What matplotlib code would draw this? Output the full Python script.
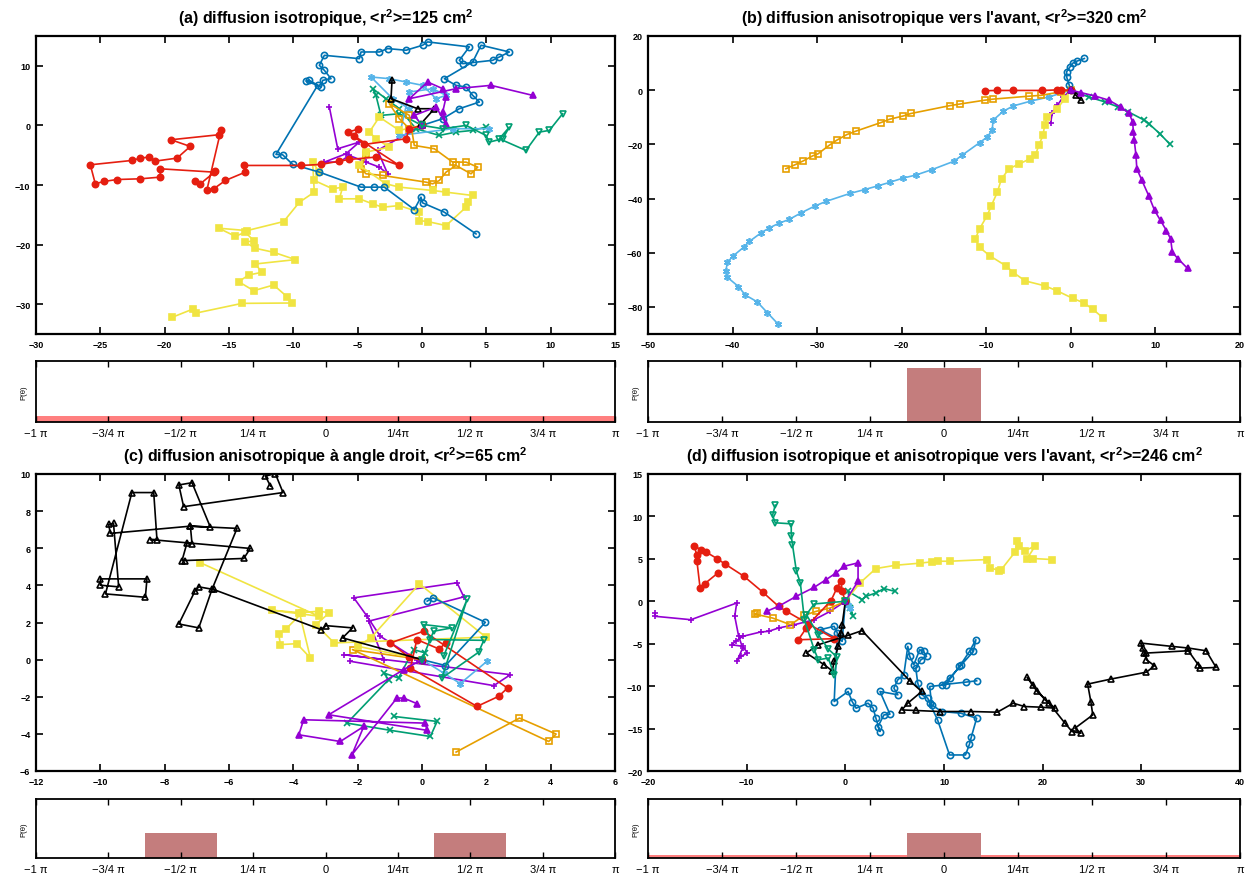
import numpy as np
import matplotlib.pyplot as plt
from matplotlib import font_manager

# ---- trajectories: (x, y) in cm, all start at the origin ----
# panel (a): isotropic
a_purple = [(0, 0), (-0.98, -1.12), (-3.45, -4.20), (-2.67, -8.12), (-3.32, -7.00), (-4.35, -6.16),
            (-5.65, -5.04), (-6.42, -6.16), (-7.59, -6.16), (-5.91, -4.76), (-4.87, -2.80),
            (-6.55, -3.92), (-7.20, 3.08)]
a_green = [(0, 0), (-1.76, 1.96), (-3.19, 1.68), (-3.58, 5.04), (-3.83, 6.16), (-2.80, 4.48),
           (-1.76, 2.80), (-0.47, -0.56), (1.35, -1.68), (2.64, -1.12), (3.94, -0.84), (4.97, -0.28)]
a_lblue = [(0, 0), (-0.98, 2.80), (-2.28, 4.48), (-3.96, 8.12), (-2.54, 7.84), (-1.24, 7.28),
           (0.05, 6.72), (1.09, 4.48), (1.87, 5.04), (0.83, 6.16), (-0.98, 5.60), (-1.76, -1.68),
           (2.38, -0.56), (5.23, -0.56)]
a_orange = [(0, 0), (-0.98, -0.56), (-1.76, 1.12), (-2.54, 3.64), (-0.98, 1.68), (-0.60, -3.36),
            (0.96, -3.92), (2.38, -6.16), (3.42, -6.16), (4.33, -7.00), (3.81, -8.12), (2.64, -6.72),
            (1.87, -7.84), (1.35, -9.24), (0.83, -9.80), (0.31, -9.52), (-3.06, -8.40), (-4.35, -8.12),
            (-4.74, -7.28), (-4.35, -4.76)]
a_yellow = [(0, 0), (-1.76, -0.84), (-3.32, 1.40), (-4.09, -1.12), (-3.58, -2.24), (-2.54, -3.64),
            (-4.35, -4.48), (-4.87, -6.72), (-2.80, -9.80), (-1.76, -10.36), (0.83, -10.92),
            (1.87, -11.20), (3.94, -11.76), (3.55, -12.89), (3.42, -13.73), (1.87, -16.81),
            (0.44, -16.13), (-0.21, -15.97), (-0.21, -14.57), (-1.76, -13.45), (-3.06, -13.73),
            (-3.83, -13.17), (-4.87, -12.32), (-6.42, -12.32), (-6.17, -10.36), (-6.94, -10.64),
            (-8.37, -9.24), (-7.98, -7.84), (-8.50, -6.16), (-8.37, -11.20), (-9.53, -12.89),
            (-10.75, -16.13), (-13.60, -17.65), (-15.80, -17.25), (-14.51, -18.60), (-13.73, -17.93),
            (-13.08, -19.33), (-13.73, -19.61), (-12.95, -20.62), (-11.53, -21.29), (-9.84, -22.52),
            (-12.95, -23.25), (-12.44, -24.65), (-13.47, -25.10), (-14.25, -26.22), (-13.08, -27.73),
            (-11.53, -26.78), (-10.49, -28.74), (-10.10, -29.80), (-13.99, -29.86), (-17.54, -31.48),
            (-17.80, -30.81), (-19.43, -32.21)]
a_blue = [(0, 0), (1.61, 1.12), (2.90, 2.80), (4.46, 3.92), (3.94, 5.04), (3.42, 6.44), (2.64, 6.72),
          (1.74, 7.84), (3.94, 10.64), (4.59, 13.45), (6.79, 12.32), (6.01, 11.48), (5.49, 10.92),
          (3.16, 10.36), (2.90, 10.92), (3.68, 13.17), (0.44, 14.01), (0.05, 13.45), (-1.24, 12.61),
          (-2.67, 12.89), (-3.32, 12.32), (-4.74, 12.32), (-4.87, 11.20), (-7.59, 11.76),
          (-7.98, 10.08), (-7.59, 9.24), (-7.07, 7.84), (-7.72, 7.56), (-7.85, 6.44), (-8.76, 7.56),
          (-9.02, 7.45), (-8.11, 6.72), (-11.35, -4.87), (-10.83, -4.93), (-10.05, -6.55),
          (-7.98, -7.84), (-4.74, -10.36), (-3.70, -10.36), (-2.93, -10.36), (-0.60, -14.12),
          (-0.08, -12.04), (0.05, -13.00), (1.74, -14.57), (4.20, -18.21)]
a_red = [(0, 0), (-0.98, -0.56), (-1.24, -2.24), (-4.48, -3.19), (-5.78, -1.12), (-5.00, -0.67),
         (-5.26, -1.79), (-1.76, -6.72), (-3.58, -5.32), (-5.65, -5.71), (-6.42, -5.99), (-7.85, -6.55),
         (-9.40, -6.72), (-13.86, -6.72), (-13.73, -7.84), (-15.28, -9.24), (-16.19, -10.64),
         (-16.71, -10.76), (-15.62, -0.73), (-15.80, -1.57), (-19.51, -2.41), (-18.01, -3.53),
         (-19.04, -5.49), (-20.73, -5.99), (-21.24, -5.32), (-21.89, -5.49), (-22.54, -5.88),
         (-25.78, -6.61), (-25.39, -9.80), (-24.74, -9.41), (-23.70, -9.08), (-21.89, -8.96),
         (-20.34, -8.68), (-20.34, -7.28), (-16.19, -7.84), (-16.06, -7.73), (-17.23, -9.80),
         (-17.67, -9.41)]
a_black = [(0, 0), (-0.08, 0.28), (0.96, 2.80), (-0.34, 2.80), (-2.41, 4.48), (-2.33, 7.56)]
a_ptri = [(0, 0), (-0.60, 1.68), (1.09, 3.08), (1.87, 0.28), (1.61, 2.24), (1.87, 4.76), (1.61, 6.16),
          (0.44, 7.28), (-0.98, 4.48), (2.64, 6.16), (5.36, 6.72), (8.60, 5.04)]
a_ginv = [(0, 0), (1.61, -0.56), (3.42, 0), (4.97, -1.68), (5.23, -2.80), (6.27, -2.24), (6.79, -0.28),
          (6.01, -2.24), (8.08, -4.20), (9.12, -1.12), (9.90, -0.84), (10.93, 1.96)]

# panel (b): forward anisotropic
b_purple = [(0, 0), (-0.9, -2.5), (-1.6, -5.6), (-2.2, -8.6), (-2.4, -12.0)]
b_green = [(0, 0), (2.1, -2.5), (4.0, -4.3), (5.6, -6.2), (6.8, -8.0), (8.7, -11.1), (9.2, -12.3),
           (10.5, -16.0), (11.7, -19.9)]
b_lblue = [(0, 0), (-2.6, -2.5), (-4.7, -4.0), (-6.8, -5.8), (-8.0, -7.8), (-9.2, -11.1), (-9.3, -14.8),
           (-9.9, -17.3), (-10.8, -19.4), (-12.9, -24.1), (-13.8, -26.2), (-16.4, -29.3), (-18.3, -31.3),
           (-19.9, -32.5), (-21.4, -34.0), (-22.8, -35.3), (-24.4, -36.7), (-26.1, -38.1), (-28.9, -41.0),
           (-30.3, -42.8), (-31.9, -45.3), (-33.3, -47.7), (-34.5, -49.1), (-35.7, -50.9), (-36.6, -52.6),
           (-38.0, -55.8), (-38.7, -58.0), (-39.9, -61.1), (-40.6, -63.5), (-40.8, -66.7), (-40.6, -69.1),
           (-39.3, -72.5), (-38.5, -75.6), (-37.1, -78.1), (-35.9, -82.1), (-34.6, -86.4)]
b_orange = [(0, 0), (-1.2, -0.6), (-3.5, -1.9), (-4.9, -2.2), (-9.2, -3.3), (-10.2, -3.7), (-13.1, -5.1),
            (-14.3, -5.7), (-18.9, -8.6), (-19.8, -9.5), (-21.4, -10.7), (-22.5, -12.0), (-25.4, -15.1),
            (-26.5, -16.4), (-27.7, -18.5), (-28.6, -20.4), (-29.9, -23.5), (-30.5, -24.2),
            (-31.7, -26.2), (-32.6, -27.5), (-33.7, -29.0)]
b_yellow = [(0, 0), (-0.7, -3.1), (-1.6, -6.8), (-2.8, -9.9), (-3.1, -13.0), (-3.3, -16.7), (-3.8, -20.4),
            (-4.2, -24.1), (-4.8, -25.3), (-6.1, -27.2), (-7.3, -29.0), (-8.2, -32.7), (-8.7, -37.7),
            (-9.4, -42.6), (-9.9, -46.3), (-10.8, -51.2), (-11.3, -54.9), (-10.8, -58.0), (-9.6, -61.1),
            (-7.7, -64.8), (-6.8, -67.3), (-5.4, -70.4), (-3.1, -72.2), (-1.6, -74.1), (0.2, -76.8),
            (1.6, -78.6), (2.6, -80.9), (3.8, -84.0)]
b_blue = [(0, 0), (-0.2, 1.9), (-0.5, 4.9), (-0.5, 6.8), (-0.1, 8.6), (0.2, 9.9), (0.7, 10.7), (1.6, 11.7)]
b_red = [(0, 0), (-1.2, 0.1), (-1.6, 0.1), (-3.4, -0.1), (-6.8, -0.1), (-8.7, -0.1), (-10.2, -0.2)]
b_black = [(0, 0), (0.6, -1.9), (1.2, -3.7)]
b_ptri = [(0, 0), (1.2, -0.9), (2.8, -2.1), (4.5, -3.7), (5.9, -6.2), (6.9, -8.6), (7.3, -11.7), (7.4, -15.4),
          (7.5, -18.5), (7.7, -24.1), (7.8, -29.0), (8.4, -33.3), (9.2, -38.9), (9.9, -44.4), (10.6, -48.1),
          (11.3, -51.8), (11.8, -54.9), (12.0, -59.9), (12.7, -62.3), (13.8, -65.8)]
b_ginv = []

# panel (c): right-angle anisotropic
c_purple = [(0, 0), (-0.16, 0), (-1.30, 1.26), (-1.71, 2.34), (-2.12, 3.33), (1.09, 4.14), (1.30, 3.38),
            (-1.66, 2.07), (-1.19, 0), (-2.44, 0.27), (2.75, -0.81), (2.23, -1.40), (-2.23, -0.09)]
c_green = [(0, 0), (0.10, 0.36), (-0.26, 0.54), (-0.73, -0.99), (-1.19, -0.72), (-1.04, -1.08),
           (-2.33, -3.42), (-0.98, -3.81), (0.26, -4.14), (0.47, -3.33), (-0.88, -3.06)]
c_lblue = [(0, 0), (0.67, -0.72), (1.19, -1.29), (2.02, -0.09)]
c_orange = [(0, 0), (-2.16, 0.54), (3.94, -4.41), (4.17, -4.01), (3.03, -3.15), (1.06, -4.98)]
c_yellow = [(0, 0), (-2.00, 0.72), (-1.59, 1.17), (-0.08, 4.08), (1.99, 1.21), (-2.73, 0.90), (-3.30, 1.89),
            (-2.88, 2.52), (-3.19, 2.61), (-3.81, 2.52), (-3.47, 0.09), (-3.89, 0.86), (-4.40, 0.81),
            (-4.46, 1.40), (-4.22, 1.67), (-3.73, 2.52), (-4.66, 2.66), (-3.21, 2.34), (-6.89, 5.22)]
c_blue = [(0, 0), (0.73, -0.32), (1.97, 2.01), (0.34, 3.33), (0.16, 3.15)]
c_red = [(0, 0), (-0.41, 0.14), (-0.98, 0.90), (0.05, 1.53), (2.66, -1.53), (2.38, -1.98), (1.71, -2.52),
         (-0.36, -0.45), (-0.16, 1.08), (0.52, 0.58), (0.76, 0.90)]
c_black = [(0, 0), (-2.47, 1.17), (-2.16, 1.71), (-2.98, 1.83), (-3.14, 1.62), (-6.48, 3.78), (-6.94, 3.92),
           (-7.05, 3.72), (-7.56, 1.92), (-6.94, 1.71), (-6.53, 3.78), (-5.75, 7.07), (-7.20, 7.19),
           (-9.69, 6.80), (-9.74, 7.28), (-9.59, 7.34), (-9.43, 3.92), (-10.0, 4.01), (-10.0, 4.35),
           (-8.55, 4.35), (-8.60, 3.36), (-9.84, 3.54), (-9.02, 9.00), (-8.34, 9.00), (-8.24, 6.47),
           (-8.45, 6.47), (-5.34, 5.99), (-5.54, 5.45), (-7.36, 5.34), (-7.46, 5.34), (-7.31, 6.26),
           (-7.15, 6.24), (-7.20, 7.19), (-6.58, 7.14), (-7.15, 9.53), (-7.56, 9.41), (-7.41, 8.24),
           (-4.32, 9.00), (-4.56, 10.02), (-4.87, 9.89), (-4.71, 9.35)]
c_ptri = [(0, 0), (-0.57, -0.54), (-2.90, -2.97), (0.16, -3.81), (0.10, -3.42), (-3.68, -3.24),
          (-3.83, -4.05), (-2.54, -4.41), (-1.81, -3.60), (-2.18, -5.13), (-0.78, -2.07), (-0.57, -2.07),
          (-0.16, -2.37)]
c_ginv = [(0, 0), (0.36, 1.53), (0.93, 1.71), (0.05, 1.89), (0.26, 1.08), (1.92, 1.04), (1.76, 0.40),
          (0.62, -0.99), (1.40, 3.24), (0.67, 0.18)]

# panel (d): isotropic + forward
d_purple = [(0, 0), (-1.53, -1.18), (-3.15, -2.17), (-5.16, -2.76), (-6.77, -3.15), (-7.78, -3.54),
            (-8.59, -3.62), (-10.40, -4.13), (-11.13, -4.72), (-11.53, -5.12), (-10.40, -5.31),
            (-9.92, -6.10), (-10.60, -6.50), (-11.01, -7.09), (-10.40, -5.51), (-10.81, -4.13),
            (-11.21, -1.77), (-11.01, -0.20), (-15.65, -2.17), (-19.27, -1.77), (-19.27, -1.38)]
d_green = [(0, 0), (0.81, -1.77), (0.48, -0.79), (0.28, 1.18), (1.69, 0.20), (2.10, 0.59), (3.10, 0.98),
           (3.91, 1.50), (5.00, 1.18)]
d_lblue = [(0, 0), (0.28, -0.39), (0.48, -0.79)]
d_orange = [(0, 0), (-1.53, -0.79), (-2.94, -1.18), (-4.15, -1.65), (-5.56, -2.76), (-7.38, -1.97),
            (-9.19, -1.50), (-8.99, -1.38)]
d_yellow = [(0, 0), (1.49, 2.17), (3.10, 3.86), (5.12, 4.25), (7.54, 4.49), (8.75, 4.65), (9.35, 4.72),
            (10.56, 4.72), (14.40, 4.92), (14.68, 3.94), (15.60, 3.62), (15.81, 3.74), (17.22, 5.83),
            (17.42, 7.09), (17.62, 6.50), (18.23, 5.98), (19.23, 6.50), (18.43, 5.04), (19.03, 5.04),
            (20.97, 4.92)]
d_blue = [(0, 0), (-0.32, -4.72), (-2.54, -3.35), (-1.13, -2.95), (-0.81, -3.74), (-1.13, -11.81),
          (0.28, -10.63), (0.69, -11.81), (1.09, -12.60), (2.30, -12.01), (2.82, -12.60), (3.10, -13.78),
          (3.51, -15.35), (3.31, -14.76), (3.91, -13.39), (4.52, -13.31), (3.51, -10.63), (5.32, -11.02),
          (4.92, -10.24), (5.32, -9.25), (5.93, -8.66), (6.33, -5.31), (6.53, -6.50), (6.94, -7.48),
          (7.54, -5.71), (7.94, -5.91), (8.23, -6.50), (7.66, -6.89), (7.14, -7.87), (7.34, -9.65),
          (7.74, -11.02), (8.35, -11.42), (8.55, -12.01), (9.35, -13.98), (10.56, -18.11),
          (12.18, -18.11), (12.58, -16.85), (12.78, -15.94), (13.31, -13.78), (11.69, -13.19),
          (9.76, -12.99), (8.75, -12.20), (8.55, -10.04), (10.16, -9.84), (11.57, -7.68), (12.58, -5.91),
          (13.23, -4.53), (12.98, -5.91), (11.77, -7.48), (10.56, -9.06), (9.76, -9.84), (12.18, -9.53),
          (13.31, -9.37)]
d_red = [(0, 0), (-0.32, 1.18), (-0.44, 2.44), (-0.85, 1.57), (-1.45, 0.08), (-3.75, -2.76), (-3.95, -3.15),
         (-4.76, -4.53), (-1.13, -4.41), (-5.97, -1.18), (-6.77, -0.59), (-8.39, 1.10), (-10.28, 2.95),
         (-12.22, 4.41), (-13.02, 5.04), (-14.15, 5.83), (-14.64, 6.10), (-15.32, 6.50), (-15.04, 5.43),
         (-15.04, 4.72), (-14.72, 1.57), (-14.23, 2.09), (-12.90, 3.35)]
d_black = [(0, 0), (-0.32, -2.76), (-0.44, -3.74), (-0.73, -5.31), (-1.13, -7.09), (-1.33, -8.19),
           (-2.14, -7.48), (-3.95, -6.10), (-2.74, -5.12), (0.28, -4.02), (1.69, -3.46), (6.53, -9.37),
           (7.74, -10.63), (6.33, -12.01), (5.73, -12.80), (7.14, -12.87), (9.56, -12.99), (12.78, -12.99),
           (15.40, -13.07), (17.02, -12.01), (18.15, -12.40), (19.84, -12.48), (21.25, -12.60),
           (20.24, -11.61), (19.03, -9.84), (18.43, -8.98), (19.44, -10.63), (20.65, -12.01),
           (22.26, -14.37), (22.98, -15.35), (23.87, -15.55), (23.27, -14.96), (25.08, -13.39),
           (24.88, -11.81), (24.56, -9.76), (26.90, -9.17), (30.52, -8.35), (31.33, -7.60), (30.52, -6.89),
           (30.32, -6.10), (30.12, -5.51), (29.92, -4.92), (33.06, -5.31), (34.76, -5.51), (36.57, -5.83),
           (37.58, -7.80), (35.97, -7.87), (35.77, -7.48), (34.76, -5.83), (30.52, -6.10)]
d_ptri = [(0, 0), (1.29, 2.36), (1.29, 4.53), (-0.12, 4.13), (-0.93, 3.35), (-1.94, 2.56), (-3.15, 1.65),
          (-4.96, 0.59), (-6.77, -0.59), (-7.98, -1.18)]
d_ginv = [(0, 0), (-3.15, -0.31), (-3.95, -1.57), (-2.74, -3.94), (-1.73, -5.63), (-0.81, -6.61),
          (-1.13, -8.66), (-1.73, -6.69), (-2.74, -6.89), (-3.15, -5.71), (-4.15, -2.17), (-4.56, 2.17),
          (-4.96, 3.54), (-5.36, 6.69), (-5.48, 7.68), (-5.48, 9.13), (-7.10, 9.25), (-7.38, 10.12),
          (-7.10, 11.34)]

# ---- angle distributions P(theta): bin edges in units of pi, heights (axis 0..1) ----
hist_a_uniform = 0.10
hist_a_lo, hist_a_hi, hist_a_h = [], [], []
hist_b_uniform = 0.0
hist_b_lo, hist_b_hi, hist_b_h = [-0.125], [0.125], [0.88]
hist_c_uniform = 0.0
hist_c_lo, hist_c_hi, hist_c_h = [-0.625, 0.375], [-0.375, 0.625], [0.42, 0.42]
hist_d_uniform = 0.045
hist_d_lo, hist_d_hi, hist_d_h = [-0.125], [0.125], [0.42]

titles = ['(a) diffusion isotropique, <r$^2$>=125 cm$^2$',
          "(b) diffusion anisotropique vers l'avant, <r$^2$>=320 cm$^2$",
          '(c) diffusion anisotropique à angle droit, <r$^2$>=65 cm$^2$',
          "(d) diffusion isotropique et anisotropique vers l'avant, <r$^2$>=246 cm$^2$"]
angle_labels = ['−1 π', '−3/4 π', '−1/2 π', '1/4 π', '0', '1/4π', '1/2 π', '3/4 π', 'π']

# ---- styling ----
installed = {f.name for f in font_manager.fontManager.ttflist}
if 'Liberation Sans Narrow' in installed:
    title_fam, title_size = 'Liberation Sans Narrow', 13
else:
    title_fam, title_size = 'Liberation Sans', 11.5
plt.rcParams['font.family'] = ['Liberation Sans', 'DejaVu Sans']
plt.rcParams['mathtext.fontset'] = 'custom'
plt.rcParams['mathtext.rm'] = title_fam + ':bold'
plt.rcParams['mathtext.it'] = title_fam + ':bold'
plt.rcParams['mathtext.bf'] = title_fam + ':bold'

# gnuplot default line types: (colour, marker, filled)
styles = {
    'purple': ('#9400d3', '+', True),
    'green': ('#009e73', 'x', True),
    'lblue': ('#56b4e9', (6, 2, 0), True),
    'orange': ('#e69f00', 's', False),
    'yellow': ('#f0e442', 's', True),
    'blue': ('#0072b2', 'o', False),
    'red': ('#e51e10', 'o', True),
    'black': ('#000000', '^', False),
    'ptri': ('#9400d3', '^', True),
    'ginv': ('#009e73', 'v', False),
}
order = ['purple', 'green', 'lblue', 'orange', 'yellow', 'blue', 'red', 'black', 'ptri', 'ginv']

panels = [
    dict(walks=dict(purple=a_purple, green=a_green, lblue=a_lblue, orange=a_orange, yellow=a_yellow,
                    blue=a_blue, red=a_red, black=a_black, ptri=a_ptri, ginv=a_ginv),
         xlim=(-30, 15), ylim=(-35, 15), xt=np.arange(-30, 16, 5), yt=np.arange(-30, 11, 10),
         hist=(hist_a_uniform, hist_a_lo, hist_a_hi, hist_a_h), box=(36, 37, 615, 335),
         hbox=(36, 362, 615, 423)),
    dict(walks=dict(purple=b_purple, green=b_green, lblue=b_lblue, orange=b_orange, yellow=b_yellow,
                    blue=b_blue, red=b_red, black=b_black, ptri=b_ptri, ginv=b_ginv),
         xlim=(-50, 20), ylim=(-90, 20), xt=np.arange(-50, 21, 10), yt=np.arange(-80, 21, 20),
         hist=(hist_b_uniform, hist_b_lo, hist_b_hi, hist_b_h), box=(648, 37, 1240, 335),
         hbox=(648, 362, 1240, 423)),
    dict(walks=dict(purple=c_purple, green=c_green, lblue=c_lblue, orange=c_orange, yellow=c_yellow,
                    blue=c_blue, red=c_red, black=c_black, ptri=c_ptri, ginv=c_ginv),
         xlim=(-12, 6), ylim=(-6, 10), xt=np.arange(-12, 7, 2), yt=np.arange(-6, 11, 2),
         hist=(hist_c_uniform, hist_c_lo, hist_c_hi, hist_c_h), box=(36, 475, 615, 772),
         hbox=(36, 800, 615, 859)),
    dict(walks=dict(purple=d_purple, green=d_green, lblue=d_lblue, orange=d_orange, yellow=d_yellow,
                    blue=d_blue, red=d_red, black=d_black, ptri=d_ptri, ginv=d_ginv),
         xlim=(-20, 40), ylim=(-20, 15), xt=np.arange(-20, 41, 10), yt=np.arange(-20, 16, 5),
         hist=(hist_d_uniform, hist_d_lo, hist_d_hi, hist_d_h), box=(648, 475, 1240, 772),
         hbox=(648, 800, 1240, 859)),
]

W, H = 1250, 878
fig = plt.figure(figsize=(W / 100, H / 100), dpi=100)


def px_axes(x0, y0, x1, y1):
    return fig.add_axes([x0 / W, 1 - y1 / H, (x1 - x0) / W, (y1 - y0) / H])


for p, title in zip(panels, titles):
    ax = px_axes(*p['box'])
    for name in order:
        pts = p['walks'][name]
        if not pts:
            continue
        col, mk, filled = styles[name]
        xs, ys = zip(*pts)
        ax.plot(xs, ys, color=col, lw=1.2, marker=mk, ms=5 if mk != 'o' else 4.5,
                mfc=col if filled else 'none', mec=col, mew=1.2)
    ax.set_xlim(*p['xlim'])
    ax.set_ylim(*p['ylim'])
    ax.set_xticks(p['xt'])
    ax.set_yticks(p['yt'])
    ax.tick_params(direction='in', length=5, width=1.2, top=True, right=True,
                   labelsize=6.5, pad=4)
    for lab in ax.get_xticklabels() + ax.get_yticklabels():
        lab.set_fontweight('bold')
    for s in ax.spines.values():
        s.set_linewidth(1.6)
    x0, y0, x1, y1 = p['box']
    fig.text((x0 + x1) / 2 / W, 1 - (y0 - 19) / H, title, ha='center', va='center',
             fontsize=title_size, fontweight='bold', family=title_fam)

    # angle histogram
    hx = px_axes(*p['hbox'])
    uni, lo, hi, hh = p['hist']
    if uni > 0:
        hx.bar(-np.pi, uni, width=2 * np.pi, align='edge', color='#ff7f7f', lw=0)
    for l, h_, v in zip(lo, hi, hh):
        hx.bar(l * np.pi, v, width=(h_ - l) * np.pi, align='edge', color='#c47d7d', lw=0)
    hx.set_xlim(-np.pi, np.pi)
    hx.set_ylim(0, 1)
    hx.set_xticks(np.linspace(-np.pi, np.pi, 9))
    hx.set_xticklabels(angle_labels, fontsize=8)
    hx.set_yticks([])
    hx.tick_params(axis='x', direction='in', length=4, width=1, top=True, pad=4)
    for s in hx.spines.values():
        s.set_linewidth(1.3)
    hx.set_ylabel('P(θ)', fontsize=5.5, labelpad=6)

fig.savefig('out.png', dpi=100)
